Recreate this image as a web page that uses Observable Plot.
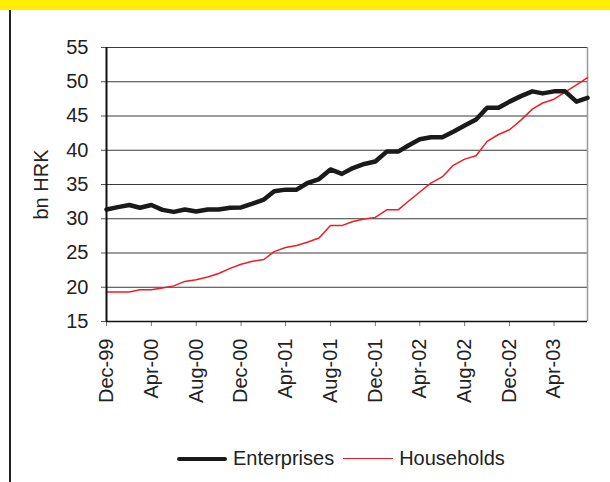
<!DOCTYPE html>
<html>
<head>
<meta charset="utf-8">
<script src="https://cdn.jsdelivr.net/npm/d3@7"></script>
<script src="https://cdn.jsdelivr.net/npm/@observablehq/plot@0.6"></script>
<style>
  html, body { margin: 0; padding: 0; background: #fff; }
  body { width: 610px; height: 482px; position: relative; overflow: hidden; font-family: "Liberation Sans", Arial, sans-serif; }
  #band { position: absolute; left: 0; top: 0; width: 610px; height: 10px; background: #FFED00; }
  #vline { position: absolute; left: 9px; top: 10px; width: 2px; height: 472px; background: #222; }
  #chart { position: absolute; left: 0; top: 10px; }
  #legend { position: absolute; left: 177px; top: 447px; display: flex; align-items: center; font-size: 20px; color: #222; white-space: nowrap; }
  .sw { display: inline-block; width: 50px; }
</style>
</head>
<body>
<div id="band"></div>
<div id="vline"></div>
<div id="chart"></div>
<div id="legend">
  <span class="sw" style="height:4px;background:#1a1a1a;border-radius:2px;"></span>
  <span style="margin-left:6px;">Enterprises</span>
  <span class="sw" style="height:1.5px;background:#ee1c25;margin-left:9px;"></span>
  <span style="margin-left:6px;">Households</span>
</div>
<script>
const months = [
  "1999-12",
  "2000-01","2000-02","2000-03","2000-04","2000-05","2000-06","2000-07","2000-08","2000-09","2000-10","2000-11","2000-12",
  "2001-01","2001-02","2001-03","2001-04","2001-05","2001-06","2001-07","2001-08","2001-09","2001-10","2001-11","2001-12",
  "2002-01","2002-02","2002-03","2002-04","2002-05","2002-06","2002-07","2002-08","2002-09","2002-10","2002-11","2002-12",
  "2003-01","2003-02","2003-03","2003-04","2003-05","2003-06","2003-07"
];
const enterprises = [
  31.35,
  31.7, 32.0, 31.6, 32.0, 31.3, 31.0, 31.35, 31.05, 31.35, 31.35, 31.6, 31.65,
  32.2, 32.8, 34.0, 34.25, 34.25, 35.25, 35.8, 37.2, 36.55, 37.4, 38.0, 38.35,
  39.8, 39.8, 40.7, 41.6, 41.9, 41.9, 42.7, 43.6, 44.5, 46.2, 46.2, 47.1,
  47.9, 48.6, 48.3, 48.6, 48.6, 47.1, 47.65
];
const households = [
  19.3,
  19.3, 19.3, 19.65, 19.65, 19.9, 20.2, 20.85, 21.1, 21.5, 22.0, 22.75, 23.35,
  23.8, 24.05, 25.2, 25.8, 26.1, 26.6, 27.2, 29.0, 29.0, 29.6, 29.95, 30.2,
  31.3, 31.3, 32.55, 33.9, 35.2, 36.1, 37.8, 38.7, 39.2, 41.3, 42.3, 43.0,
  44.4, 46.0, 46.9, 47.45, 48.5, 49.55, 50.6
];
const xTickMonths = ["1999-12","2000-04","2000-08","2000-12","2001-04","2001-08","2001-12","2002-04","2002-08","2002-12","2003-04"];
const yTicks = [15, 20, 25, 30, 35, 40, 45, 50, 55];
const yLabel = "bn HRK";

const parse = d3.utcParse("%Y-%m");
const entData = months.map((m, i) => ({date: parse(m), value: enterprises[i]}));
const hhData = months.map((m, i) => ({date: parse(m), value: households[i]}));
const xMin = parse(months[0]);
const xMax = parse(months[months.length - 1]);

const chart = Plot.plot({
  width: 610,
  height: 420,
  marginLeft: 106,
  marginRight: 23,
  marginTop: 37,
  marginBottom: 109,
  style: {fontFamily: "Liberation Sans, Arial, sans-serif", fontSize: "20px", color: "#222", background: "transparent", overflow: "visible"},
  x: {type: "utc", domain: [xMin, xMax], label: null},
  y: {domain: [15, 55], label: null},
  marks: [
    Plot.ruleY(yTicks.filter(d => d > 15), {stroke: "#3a3a3a", strokeWidth: 1}),
    Plot.ruleX([xMax], {stroke: "#999", strokeWidth: 1.5}),
    Plot.axisY({ticks: yTicks, tickSize: 5, tickPadding: 13, stroke: "#555", fontSize: 20, label: null}),
    Plot.axisX({ticks: xTickMonths.map(parse), tickFormat: d3.utcFormat("%b-%y"), tickRotate: -90, tickSize: 5, tickPadding: 12, stroke: "#777", fontSize: 20, label: null}),
    Plot.line(hhData, {x: "date", y: "value", stroke: "#ee1c25", strokeWidth: 1.5}),
    Plot.line(entData, {x: "date", y: "value", stroke: "#1a1a1a", strokeWidth: 4.5}),
    Plot.ruleX([xMin], {stroke: "#111", strokeWidth: 2}),
    Plot.ruleY([15], {stroke: "#111", strokeWidth: 1.5}),
    Plot.text([yLabel], {frameAnchor: "left", dx: -65, rotate: -90, textAnchor: "middle", fontSize: 20, fill: "#222"})
  ]
});
document.getElementById("chart").appendChild(chart);
</script>
</body>
</html>
